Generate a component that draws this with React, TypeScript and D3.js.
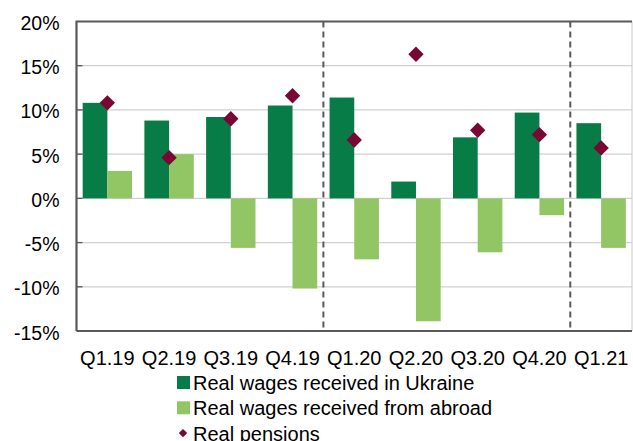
import React from "react";
import * as d3 from "d3";

const categories = ["Q1.19", "Q2.19", "Q3.19", "Q4.19", "Q1.20", "Q2.20", "Q3.20", "Q4.20", "Q1.21"];
const wagesUkraine = [10.8, 8.8, 9.2, 10.5, 11.4, 1.9, 6.9, 9.7, 8.5];
const wagesAbroad = [3.1, 5.0, -5.6, -10.2, -6.9, -13.9, -6.1, -1.9, -5.6];
const pensions = [10.8, 4.6, 9.0, 11.6, 6.6, 16.3, 7.7, 7.2, 5.7];
const yTicks = [20, 15, 10, 5, 0, -5, -10, -15];
const dividersAfter = ["Q4.19", "Q4.20"];
const seriesNames = ["Real wages received in Ukraine", "Real wages received from abroad", "Real pensions"];

const W = 633;
const H = 441;
const L = 76.5;
const R = 632;
const T = 21.5;
const B = 331;
const C_DARK = "#077C47";
const C_LIGHT = "#92C664";
const C_DIAMOND = "#7A0633";
const FONT = "'Liberation Sans', Arial, sans-serif";

export default function App() {
  const x = d3.scaleBand<string>().domain(categories).range([L, R]).padding(0);
  const inner = d3.scaleBand<string>().domain(["ua", "ab"]).range([x.bandwidth() * 0.1, x.bandwidth() * 0.9]).padding(0);
  const y = d3.scaleLinear().domain([-15, 20]).range([B, T]);
  const bw = inner.bandwidth();
  const diamond = d3.symbol().type(d3.symbolDiamond2 ?? d3.symbolSquare).size(150)();
  const cx = (c: string) => (x(c) ?? 0) + x.bandwidth() / 2;

  return (
    <svg width={W} height={H} style={{ position: "absolute", left: 0, top: 0, fontFamily: FONT }}>
      <rect x={0} y={0} width={W} height={H} fill="#fff" />
      {yTicks.filter((t) => t !== 20 && t !== -15).map((t) => (
        <line key={t} x1={L} x2={R} y1={y(t)} y2={y(t)} stroke="#D0D0D0" strokeWidth={1.3} />
      ))}
      {yTicks.filter((t) => t !== 20 && t !== -15).map((t) => (
        <line key={"tk" + t} x1={L} x2={L + 6} y1={y(t)} y2={y(t)} stroke="#595959" strokeWidth={1.3} />
      ))}
      {categories.map((c, i) => {
        const x0 = x(c) ?? 0;
        const u = wagesUkraine[i];
        const a = wagesAbroad[i];
        return (
          <g key={c}>
            <rect x={x0 + (inner("ua") ?? 0)} width={bw} y={y(Math.max(0, u))} height={Math.abs(y(u) - y(0))} fill={C_DARK} />
            <rect x={x0 + (inner("ab") ?? 0)} width={bw} y={y(Math.max(0, a))} height={Math.abs(y(a) - y(0))} fill={C_LIGHT} />
          </g>
        );
      })}
      {dividersAfter.map((c) => {
        const xx = (x(c) ?? 0) + x.bandwidth();
        return <line key={c} x1={xx} x2={xx} y1={T} y2={B} stroke="#5A5A5A" strokeWidth={2} strokeDasharray="6,4" />;
      })}
      {categories.map((c, i) => (
        <path key={"p" + c} d={diamond ?? ""} transform={`translate(${cx(c)},${y(pensions[i])})`} fill={C_DIAMOND} />
      ))}
      <line x1={R} x2={R} y1={T} y2={B} stroke="#C8C8C8" strokeWidth={1} />
      <path d={`M${L},${B}V${T}H${R}`} fill="none" stroke="#595959" strokeWidth={2.2} />
      <line x1={L} x2={R} y1={B} y2={B} stroke="#595959" strokeWidth={2.2} />
      {yTicks.map((t) => (
        <text key={"yl" + t} x={59.5} y={y(t) + 8.5} textAnchor="end" fontSize={19.5} fill="#000">
          {t + "%"}
        </text>
      ))}
      {categories.map((c) => (
        <text key={"xl" + c} x={cx(c)} y={364.5} textAnchor="middle" fontSize={20} fill="#000">
          {c}
        </text>
      ))}
      {seriesNames.map((n, i) => {
        const base = 390 + i * 25.3;
        const my = base - 7.5;
        return (
          <g key={n}>
            {i < 2 ? (
              <rect x={177} y={my - 6.5} width={13} height={13} fill={i === 0 ? C_DARK : C_LIGHT} />
            ) : (
              <path d={d3.symbol().type(d3.symbolDiamond2 ?? d3.symbolSquare).size(45)() ?? ""} transform={`translate(183,${my})`} fill={C_DIAMOND} />
            )}
            <text x={193} y={base} fontSize={20} fill="#000">
              {n}
            </text>
          </g>
        );
      })}
    </svg>
  );
}
